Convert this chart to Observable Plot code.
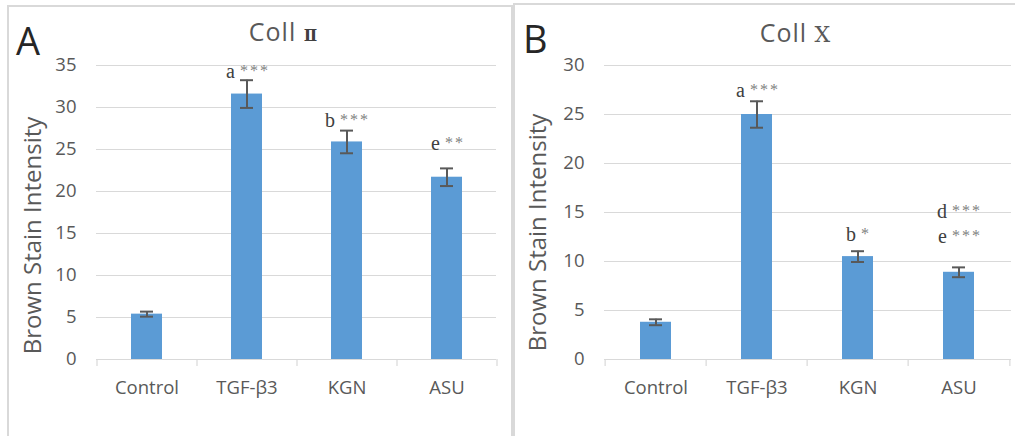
<!DOCTYPE html>
<html>
<head>
<meta charset="utf-8">
<script src="https://cdn.jsdelivr.net/npm/d3@7"></script>
<script src="https://cdn.jsdelivr.net/npm/@observablehq/plot@0.6"></script>
<style>
  html, body { margin: 0; padding: 0; background: #fff; }
  #wrap { position: relative; width: 1015px; height: 436px; overflow: hidden; font-family: "Open Sans", sans-serif; }
  .frame { position: absolute; border: 2px solid #d9d9d9; box-sizing: border-box; }
  .panel { position: absolute; }
  .letter { position: absolute; font-size: 38px; color: #262626; line-height: 1; }
  .title { position: absolute; font-size: 25px; color: #595959; white-space: nowrap; transform: translateX(-50%); line-height: 1; letter-spacing: 1px; }
  .title .num2 { font-family: "DejaVu Serif", serif; font-weight: bold; font-size: 16px; color: #404040; letter-spacing: 0; }
  .title .num10 { font-family: "DejaVu Serif", serif; font-size: 22px; color: #595959; letter-spacing: 0; }
  .stars text { letter-spacing: 2px; }
</style>
</head>
<body>
<div id="wrap">
  <div class="frame" style="left:7px;top:5px;width:506px;height:445px;"></div>
  <div class="frame" style="left:513px;top:3px;width:510px;height:445px;"></div>
  <div class="panel" id="panelA" style="left:8px;top:6px;"></div>
  <div class="panel" id="panelB" style="left:514px;top:4px;"></div>
  <div class="letter" style="left:16px;top:21px;">A</div>
  <div class="letter" style="left:523px;top:19px;">B</div>
  <div class="title" style="left:283px;top:19px;">Coll <span class="num2">Ⅱ</span></div>
  <div class="title" style="left:795px;top:20px;">Coll <span class="num10">Ⅹ</span></div>
</div>
<script>
// ---- data ----
const categories = ["Control", "TGF-β3", "KGN", "ASU"];

const collIIMeans  = [5.4, 31.6, 25.9, 21.7];
const collIIErrors = [0.3, 1.65, 1.35, 1.05];
const collIITicks  = [0, 5, 10, 15, 20, 25, 30, 35];
const collIIAnnCats    = ["TGF-β3", "KGN", "ASU"];
const collIIAnnLetters = ["a", "b", "e"];
const collIIAnnStars   = ["***", "***", "**"];
const collIIAnnY       = [33.5, 27.7, 25.0];

const collXMeans  = [3.8, 25.0, 10.5, 8.9];
const collXErrors = [0.3, 1.35, 0.55, 0.5];
const collXTicks  = [0, 5, 10, 15, 20, 25, 30];
const collXAnnCats    = ["TGF-β3", "KGN", "ASU", "ASU"];
const collXAnnLetters = ["a", "b", "d", "e"];
const collXAnnStars   = ["***", "*", "***", "***"];
const collXAnnY       = [26.8, 12.1, 14.4, 11.9];

const yTitle = "Brown Stain Intensity";

function panel(cfg) {
  const rows = categories.map((c, i) => ({cat: c, mean: cfg.means[i], lo: cfg.means[i] - cfg.errors[i], hi: cfg.means[i] + cfg.errors[i]}));
  const ann = cfg.annCats.map((c, i) => ({cat: c, letter: cfg.annLetters[i], stars: cfg.annStars[i], y: cfg.annY[i]}));
  const step = (cfg.width - cfg.mL - cfg.mR) / categories.length;
  const ink = "#595959";
  const grid = "#d9d9d9";
  const marks = [
    Plot.gridY(cfg.ticks, {stroke: grid, strokeOpacity: 1, strokeWidth: 1}),
    Plot.ruleY([0], {stroke: grid, strokeWidth: 1.2}),
    Plot.ruleX(categories, {x: d => d, y1: 0, y2: 0, insetBottom: -7, dx: -step / 2, stroke: grid, strokeWidth: 1.2}),
    Plot.ruleX([categories[categories.length - 1]], {x: d => d, y1: 0, y2: 0, insetBottom: -7, dx: step / 2, stroke: grid, strokeWidth: 1.2}),
    Plot.barY(rows, {x: "cat", y: "mean", fill: "#5b9bd5"}),
    Plot.ruleX(rows, {x: "cat", y1: "lo", y2: "hi", stroke: ink, strokeWidth: 2}),
    Plot.tickY(rows, {x: "cat", y: "hi", stroke: ink, strokeWidth: 2, inset: 9}),
    Plot.tickY(rows, {x: "cat", y: "lo", stroke: ink, strokeWidth: 2, inset: 9}),
    Plot.axisY({ticks: cfg.ticks, tickSize: 0, tickPadding: 20, fontSize: 18.5, fill: ink, label: null}),
    Plot.axisX({tickSize: 0, tickPadding: 21, fontSize: 18.5, fill: ink, label: null}),
    Plot.text([yTitle], {text: d => d, frameAnchor: "left", textAnchor: "middle", rotate: -90, dx: cfg.titleDx, dy: cfg.titleDy, fontSize: 24, fill: ink})
  ];
  ann.forEach(a => {
    const n = a.stars.length;
    const w = 9 + 5 + 10 * n - 2;
    marks.push(Plot.text([a], {x: "cat", y: "y", text: "letter", textAnchor: "end", lineAnchor: "bottom", dx: -w / 2 + 9, fontFamily: "Liberation Serif", fontSize: 20, fill: "#404040"}));
    marks.push(Plot.text([a], {x: "cat", y: "y", text: "stars", textAnchor: "start", lineAnchor: "bottom", dx: -w / 2 + 14, dy: -2, fontFamily: "Liberation Serif", fontSize: 16, fill: "#7f7f7f", className: "stars"}));
  });
  return Plot.plot({
    width: cfg.width,
    height: cfg.height,
    marginLeft: cfg.mL,
    marginRight: cfg.mR,
    marginTop: cfg.mT,
    marginBottom: cfg.mB,
    x: {domain: categories, paddingInner: 0.69, paddingOuter: 0.345},
    y: {domain: [0, cfg.yMax]},
    style: {fontFamily: "Open Sans, sans-serif", fontSize: "18px", color: "#595959", background: "transparent", overflow: "visible"},
    marks
  });
}

document.getElementById("panelA").append(panel({
  means: collIIMeans, errors: collIIErrors, ticks: collIITicks, yMax: 35,
  annCats: collIIAnnCats, annLetters: collIIAnnLetters, annStars: collIIAnnStars, annY: collIIAnnY,
  width: 504, height: 430, mL: 88, mR: 16, mT: 59, mB: 77, titleDx: -63, titleDy: 23
}));
document.getElementById("panelB").append(panel({
  means: collXMeans, errors: collXErrors, ticks: collXTicks, yMax: 30,
  annCats: collXAnnCats, annLetters: collXAnnLetters, annStars: collXAnnStars, annY: collXAnnY,
  width: 501, height: 432, mL: 90, mR: 4, mT: 61, mB: 77, titleDx: -66, titleDy: 20
}));
</script>
</body>
</html>
